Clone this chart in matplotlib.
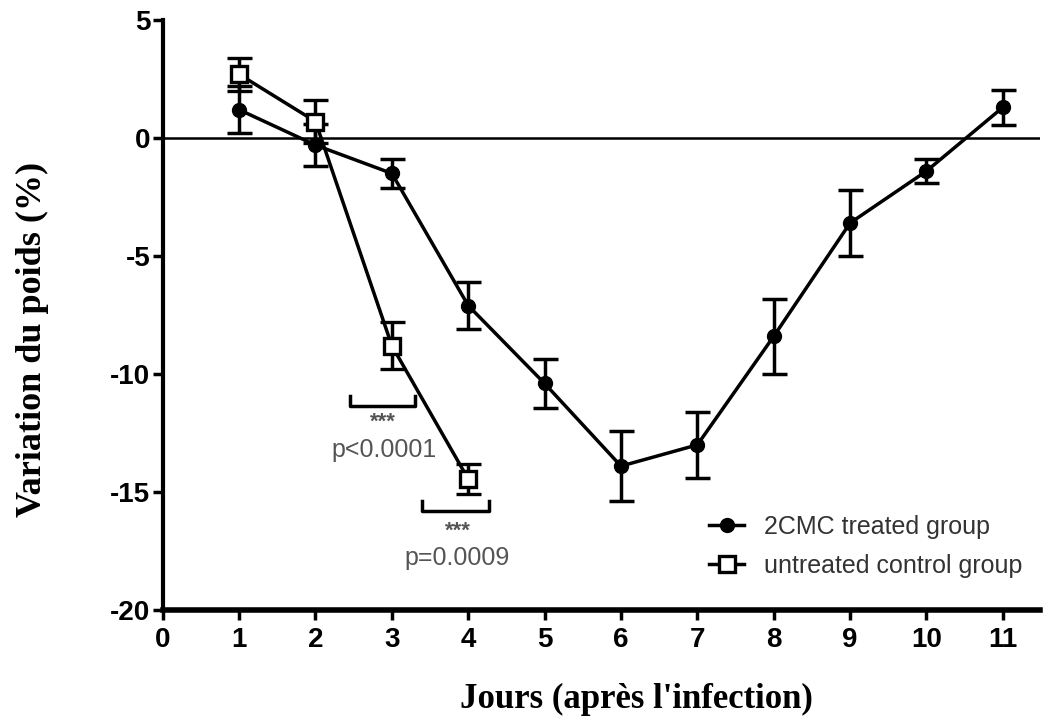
import matplotlib.pyplot as plt
from matplotlib.lines import Line2D

plt.rcParams["axes.unicode_minus"] = False

# data (mean +/- error)
days = [1, 2, 3, 4, 5, 6, 7, 8, 9, 10, 11]
treated = [1.2, -0.3, -1.5, -7.1, -10.4, -13.9, -13.0, -8.4, -3.6, -1.4, 1.3]
treated_err = [1.0, 0.9, 0.6, 1.0, 1.05, 1.5, 1.4, 1.6, 1.4, 0.5, 0.75]

ctrl_days = [1, 2, 3, 4]
control = [2.7, 0.7, -8.8, -14.45]
control_err = [0.7, 0.9, 1.0, 0.65]

xticks = list(range(0, 12))
yticks = [5, 0, -5, -10, -15, -20]

fig = plt.figure(figsize=(10.5, 7.28), dpi=100)
ax = fig.add_axes([0.155, 0.162, 0.835, 0.8105])

ax.axhline(0, color="black", lw=1.8, zorder=1)

ax.errorbar(days, treated, yerr=treated_err, color="black", lw=2.5,
            marker="o", ms=10, capsize=9, capthick=2.5, elinewidth=2.5, zorder=3)
ax.errorbar(ctrl_days, control, yerr=control_err, color="black", lw=2.5,
            marker="s", ms=12, mfc="white", mew=2.4, capsize=9, capthick=2.5,
            elinewidth=2.5, zorder=4)

# significance brackets
grey = "#555555"
sans = ["Liberation Sans", "DejaVu Sans"]
ax.plot([2.45, 2.45, 3.3, 3.3], [-10.95, -11.35, -11.35, -10.95], color="black", lw=2.5)
ax.text(2.88, -12.05, "***", ha="center", va="center", fontsize=16, color=grey,
        family=sans, fontweight="bold")
ax.text(2.9, -13.2, "p<0.0001", ha="center", va="center", fontsize=18, color=grey,
        family=sans)
ax.plot([3.4, 3.4, 4.27, 4.27], [-15.4, -15.8, -15.8, -15.4], color="black", lw=2.5)
ax.text(3.86, -16.65, "***", ha="center", va="center", fontsize=16, color=grey,
        family=sans, fontweight="bold")
ax.text(3.85, -17.8, "p=0.0009", ha="center", va="center", fontsize=18, color=grey,
        family=sans)

ax.set_xlim(0, 11.48)
ax.set_ylim(-20, 5)
ax.set_xticks(xticks)
ax.set_yticks(yticks)
tick_font = ["Liberation Sans Narrow", "Liberation Sans", "DejaVu Sans"]
for lab in ax.get_xticklabels() + ax.get_yticklabels():
    lab.set_family(tick_font)
    lab.set_fontweight("bold")
    lab.set_fontsize(20)
ax.tick_params(width=2.5, length=7)
ax.tick_params(axis="x", pad=5)
ax.tick_params(axis="y", pad=2)

for s in ["top", "right"]:
    ax.spines[s].set_visible(False)
ax.spines["left"].set_linewidth(3)
ax.spines["bottom"].set_linewidth(4)

label_font = ["Liberation Serif", "DejaVu Serif"]
ax.set_xlabel("Jours (après l'infection)", family=label_font, fontweight="bold",
              fontsize=25)
ax.set_ylabel("Variation du poids (%)", family=label_font, fontweight="bold",
              fontsize=26)
ax.xaxis.set_label_coords(0.54, -0.123)
ax.yaxis.set_label_coords(-0.13, 0.458)

handles = [
    Line2D([], [], color="black", lw=2.5, marker="o", ms=10),
    Line2D([], [], color="black", lw=2.5, marker="s", ms=12, mfc="white", mew=2.4),
]
labels = ["2CMC treated group", "untreated control group"]
leg = ax.legend(handles, labels, loc="upper left", bbox_to_anchor=(0.5975, 0.199),
                frameon=False, prop={"family": sans, "size": 18}, handlelength=1.4,
                labelspacing=0.6, handletextpad=0.8)
for t in leg.get_texts():
    t.set_color("#333333")

fig.savefig("out.png", dpi=100)
